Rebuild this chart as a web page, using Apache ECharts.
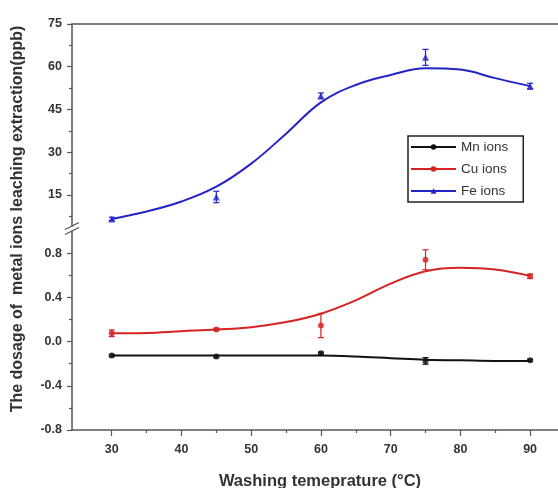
<!DOCTYPE html>
<html>
<head>
    <meta charset="utf-8">
    <script src="https://cdn.jsdelivr.net/npm/echarts@6/dist/echarts.min.js"></script>
    <style>
        body { margin: 0; padding: 0; background: #fff; }
        #chart { width: 558px; height: 488px; }
    </style>
</head>
<body>
    <div id="chart"></div>
    <script>
        // measured points (washing temperature, mean, error)
        var tempX = [30, 45, 60, 75, 90];
        var feMean = [6.6, 14.3, 49.8, 63.3, 53.2];
        var feErr = [0.6, 2.0, 1.0, 2.8, 1.0];
        var cuMean = [0.075, 0.11, 0.145, 0.74, 0.59];
        var cuErr = [0.03, 0.01, 0.11, 0.09, 0.02];
        var mnMean = [-0.127, -0.136, -0.106, -0.175, -0.17];
        var mnErr = [0.01, 0.01, 0.01, 0.03, 0.01];

        // fitted curves
        var fitX = [30, 35, 40, 45, 50, 55, 60, 65, 70, 75, 80, 85, 90];
        var feFit = [6.6, 9.2, 12.7, 17.9, 26, 36.5, 47.5, 53.6, 57.1, 59.5, 59, 56, 53.2];
        var cuFit = [0.075, 0.078, 0.094, 0.109, 0.13, 0.176, 0.252, 0.373, 0.524, 0.636, 0.667, 0.651, 0.594];
        var mnFit = [-0.127, -0.127, -0.127, -0.127, -0.127, -0.127, -0.127, -0.135, -0.15, -0.165, -0.17, -0.175, -0.175];

        // tick labels
        var xTicks = [30, 40, 50, 60, 70, 80, 90];
        var xMinor = [35, 45, 55, 65, 75, 85];
        var upTicks = [15, 30, 45, 60, 75];
        var upMinor = [7.5, 22.5, 37.5, 52.5, 67.5];
        var lowTicks = [-0.8, -0.4, 0, 0.4, 0.8];
        var lowMinor = [-0.6, -0.2, 0.2, 0.6];

        var axisColor = '#555';
        var labelFont = { color: '#333', fontSize: 12.5, fontWeight: 'bold', fontFamily: 'Arial' };

        function pairs(xs, ys) {
            return xs.map(function (x, i) { return [x, ys[i]]; });
        }
        function bars(means, errs) {
            return tempX.map(function (x, i) { return [x, means[i] - errs[i], means[i] + errs[i]]; });
        }
        function errorSeries(color, xi, yi, data) {
            return {
                type: 'custom', xAxisIndex: xi, yAxisIndex: yi, data: data,
                encode: { x: 0, y: [1, 2] }, z: 3,
                renderItem: function (params, api) {
                    var x = api.value(0);
                    var lo = api.coord([x, api.value(1)]);
                    var hi = api.coord([x, api.value(2)]);
                    var st = { stroke: color, lineWidth: 1.2 };
                    return {
                        type: 'group', children: [
                            { type: 'line', shape: { x1: lo[0], y1: lo[1], x2: hi[0], y2: hi[1] }, style: st },
                            { type: 'line', shape: { x1: hi[0] - 3, y1: hi[1], x2: hi[0] + 3, y2: hi[1] }, style: st },
                            { type: 'line', shape: { x1: lo[0] - 3, y1: lo[1], x2: lo[0] + 3, y2: lo[1] }, style: st }
                        ]
                    };
                }
            };
        }
        function yMajor(grid, min, max, ticks, fmt) {
            return {
                type: 'value', gridIndex: grid, min: min, max: max,
                axisLine: { show: true, onZero: false, lineStyle: { color: axisColor, width: 1.5 } },
                axisTick: { show: true, inside: false, length: 5, customValues: ticks, lineStyle: { color: axisColor, width: 1.2 } },
                axisLabel: Object.assign({ customValues: ticks, margin: 10, formatter: fmt }, labelFont),
                splitLine: { show: false }
            };
        }
        function yMinor(grid, min, max, ticks) {
            return {
                type: 'value', gridIndex: grid, min: min, max: max, position: 'left',
                axisLine: { show: false, onZero: false },
                axisTick: { show: true, length: 3, customValues: ticks, lineStyle: { color: axisColor, width: 1.2 } },
                axisLabel: { show: false }, splitLine: { show: false }
            };
        }

        var chart = echarts.init(document.getElementById('chart'));
        chart.setOption({
            animation: false,
            grid: [
                { left: 72, top: 24, width: 486, height: 202 },
                { left: 72, top: 231, width: 486, height: 199 }
            ],
            xAxis: [
                {
                    type: 'value', gridIndex: 0, min: 24.3, max: 94, position: 'top',
                    axisLine: { show: true, onZero: false, lineStyle: { color: axisColor, width: 1.5 } },
                    axisTick: { show: false }, axisLabel: { show: false }, splitLine: { show: false }
                },
                {
                    type: 'value', gridIndex: 1, min: 24.3, max: 94, position: 'bottom',
                    axisLine: { show: true, onZero: false, lineStyle: { color: axisColor, width: 1.5 } },
                    axisTick: { show: true, length: 6, customValues: xTicks, lineStyle: { color: axisColor, width: 1.2 } },
                    axisLabel: Object.assign({ customValues: xTicks, margin: 13 }, labelFont),
                    splitLine: { show: false }
                },
                {
                    type: 'value', gridIndex: 1, min: 24.3, max: 94, position: 'bottom',
                    axisLine: { show: false, onZero: false },
                    axisTick: { show: true, length: 3, customValues: xMinor, lineStyle: { color: axisColor, width: 1.2 } },
                    axisLabel: { show: false }, splitLine: { show: false }
                }
            ],
            yAxis: [
                yMajor(0, 4.12, 75, upTicks, function (v) { return String(v); }),
                yMinor(0, 4.12, 75, upMinor),
                yMajor(1, -0.8, 1.0, lowTicks, function (v) { return v.toFixed(1); }),
                yMinor(1, -0.8, 1.0, lowMinor)
            ],
            legend: {
                left: 408, top: 136, orient: 'vertical',
                padding: [4, 15, 4, 2], itemGap: 8, itemWidth: 45, itemHeight: 7,
                borderColor: '#222', borderWidth: 1.5,
                textStyle: { color: '#333', fontSize: 13.5, fontFamily: 'Arial' },
                data: ['Mn ions', 'Cu ions', 'Fe ions']
            },
            graphic: [
                {
                    type: 'text', x: 18, y: 219, rotation: Math.PI / 2,
                    style: {
                        text: 'The dosage of  metal ions leaching extraction(ppb)',
                        fill: '#333', font: 'bold 16px Arial', textAlign: 'center', textVerticalAlign: 'middle'
                    }
                },
                {
                    type: 'text', x: 320, y: 481,
                    style: {
                        text: 'Washing temeprature (°C)',
                        fill: '#333', font: 'bold 16.5px Arial', textAlign: 'center', textVerticalAlign: 'middle'
                    }
                },
                { type: 'line', shape: { x1: 65, y1: 229.5, x2: 79, y2: 222.5 }, style: { stroke: axisColor, lineWidth: 1.3 } },
                { type: 'line', shape: { x1: 65, y1: 234.5, x2: 79, y2: 227.5 }, style: { stroke: axisColor, lineWidth: 1.3 } }
            ],
            series: [
                {
                    name: 'Mn ions', type: 'line', xAxisIndex: 1, yAxisIndex: 2, data: pairs(fitX, mnFit),
                    smooth: 0.4, showSymbol: false, symbol: 'circle', symbolSize: 6,
                    lineStyle: { color: '#111', width: 2 }, itemStyle: { color: '#111' }
                },
                {
                    name: 'Cu ions', type: 'line', xAxisIndex: 1, yAxisIndex: 2, data: pairs(fitX, cuFit),
                    smooth: 0.4, showSymbol: false, symbol: 'circle', symbolSize: 6,
                    lineStyle: { color: '#d62222', width: 2 }, itemStyle: { color: '#d62222' }
                },
                {
                    name: 'Fe ions', type: 'line', xAxisIndex: 0, yAxisIndex: 0, data: pairs(fitX, feFit),
                    smooth: 0.4, showSymbol: false, symbol: 'triangle', symbolSize: 6,
                    lineStyle: { color: '#2323c8', width: 2 }, itemStyle: { color: '#2323c8' }
                },
                {
                    name: 'Mn data', type: 'scatter', xAxisIndex: 1, yAxisIndex: 2, data: pairs(tempX, mnMean),
                    symbol: 'circle', symbolSize: 6, itemStyle: { color: '#111' }, z: 4
                },
                {
                    name: 'Cu data', type: 'scatter', xAxisIndex: 1, yAxisIndex: 2, data: pairs(tempX, cuMean),
                    symbol: 'circle', symbolSize: 6, itemStyle: { color: '#d62222' }, z: 4
                },
                {
                    name: 'Fe data', type: 'scatter', xAxisIndex: 0, yAxisIndex: 0, data: pairs(tempX, feMean),
                    symbol: 'triangle', symbolSize: 7, itemStyle: { color: '#2323c8' }, z: 4
                },
                errorSeries('#111', 1, 2, bars(mnMean, mnErr)),
                errorSeries('#d62222', 1, 2, bars(cuMean, cuErr)),
                errorSeries('#2323c8', 0, 0, bars(feMean, feErr))
            ]
        });
    </script>
</body>
</html>
